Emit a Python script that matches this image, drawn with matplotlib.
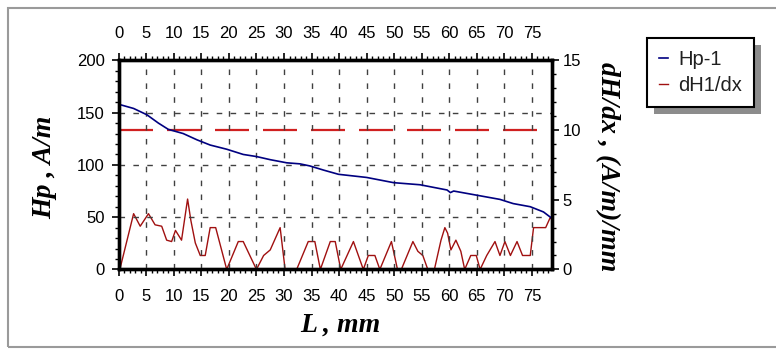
import matplotlib
matplotlib.use("Agg")
import matplotlib.pyplot as plt
from matplotlib.patches import Rectangle
from matplotlib.ticker import MultipleLocator

# field profile along the specimen
hp_x = [0, 2.7, 5.1, 7.2, 9.0, 11.7, 14.2, 16.6, 19.6, 22.6, 25.0, 27.5, 30.5,
        32.9, 34.7, 37.2, 39.9, 45.0, 49.9, 54.7, 59.6, 60.2, 60.8, 65.0, 69.2,
        71.6, 74.7, 77.1, 78.6]
hp_y = [158, 154, 148, 140, 134, 130, 124, 119, 115, 110, 108, 105, 102,
        101, 99, 95, 91, 88, 83, 81, 76, 73.5, 75, 71, 67,
        63, 60, 55, 49]

# gradient dH1/dx
dh_x = [0.2, 2.7, 3.9, 5.4, 6.6, 7.8, 8.7, 9.6, 10.3, 11.4, 12.5, 13.1, 13.9,
        14.8, 15.7, 16.6, 17.6, 19.6, 21.7, 22.6, 25.0, 26.3, 27.5, 29.3, 30.2,
        32.3, 34.4, 35.6, 36.6, 38.4, 39.3, 40.3, 42.6, 44.4, 45.3, 46.5, 47.4,
        49.5, 50.6, 51.3, 53.4, 54.3, 55.2, 56.1, 57.3, 58.5, 59.2, 59.7, 60.3,
        61.2, 62.1, 62.8, 63.9, 64.9, 65.6, 66.8, 68.3, 69.2, 70.1, 71.1, 72.3,
        73.3, 74.7, 75.3, 77.5, 78.3, 78.6]
dh_y = [0, 4, 3.1, 4, 3.2, 3.1, 2.1, 2, 2.8, 2.1, 5.05, 3.5, 1.9,
        1, 1, 3, 3, 0, 2, 2, 0, 1, 1.4, 3, 0,
        0, 2, 2, 0, 2, 2, 0, 2, 0, 1, 1, 0,
        2, 0, 0, 2, 1.3, 1, 0, 0, 2.1, 3, 2.6, 1.4,
        2.1, 1.3, 0, 1, 1, 0, 1, 2, 1, 2, 1, 2,
        1, 1, 3, 3, 3.7, 3.6]

# threshold level on the gradient axis
dh_limit = 10
limit_x = [0, 76.2]

plt.rcParams['font.family'] = ['Liberation Sans', 'DejaVu Sans']
tick_size = 12
label_font = dict(family='Liberation Serif', weight='bold', style='italic', size=20)

fig = plt.figure(figsize=(7.76, 3.49), dpi=100)
ax = fig.add_axes([0.153, 0.228, 0.558, 0.599])
ax2 = ax.twinx()

ax.set_xlim(0, 78.6)
ax.set_ylim(0, 200)
ax2.set_ylim(0, 15)

ax.grid(True, color='#404040', linestyle=(0, (4, 6)), linewidth=1.0)
ax.set_axisbelow(True)

ax2.plot(limit_x, [dh_limit, dh_limit], color='#d02020', linewidth=1.6,
         linestyle=(0, (15.3, 6.3)))
l2, = ax2.plot(dh_x, dh_y, color='#a01010', linewidth=1.0, label='dH1/dx')
l1, = ax.plot(hp_x, hp_y, color='#000080', linewidth=1.2, label='Hp-1')
ax.set_zorder(ax2.get_zorder() + 1)
ax.patch.set_visible(False)

ax.xaxis.set_major_locator(MultipleLocator(5))
ax.xaxis.set_minor_locator(MultipleLocator(1))
ax.yaxis.set_major_locator(MultipleLocator(50))
ax.yaxis.set_minor_locator(MultipleLocator(10))
ax2.yaxis.set_major_locator(MultipleLocator(5))
ax2.yaxis.set_minor_locator(MultipleLocator(1))
ax.set_xticks(range(0, 80, 5))

ax.tick_params(axis='x', which='both', top=True, labeltop=False, direction='out')
ax.tick_params(which='major', length=5, width=1.2, labelsize=tick_size, pad=5)
ax.tick_params(axis='x', which='major', pad=9)
ax.tick_params(which='minor', length=3, width=1.0)
ax2.tick_params(which='major', length=5, width=1.2, labelsize=tick_size, pad=3)
ax2.tick_params(which='minor', length=3, width=1.0)

# top row of distance labels, set further away from the frame
top = ax.secondary_xaxis('top')
top.set_xticks(range(0, 80, 5))
top.tick_params(length=0, labelsize=tick_size, pad=14)
top.spines['top'].set_visible(False)

for a in (ax, ax2):
    for s in a.spines.values():
        s.set_linewidth(2.4)

ax.set_xlabel('L , mm', fontdict=label_font)
ax.set_ylabel('Hp , A/m', fontdict=label_font)
ax2.set_ylabel('dH/dx , (A/m)/mm', fontdict=label_font, rotation=270)
ax.xaxis.set_label_coords(0.511, -0.267)
ax.yaxis.set_label_coords(-0.170, 0.49)
ax2.yaxis.set_label_coords(1.128, 0.49)
ax.xaxis.label.set_verticalalignment('center')
ax.yaxis.label.set_verticalalignment('center')
ax2.yaxis.label.set_verticalalignment('center')

leg = fig.legend(handles=[l1, l2], loc='upper left',
                 bbox_to_anchor=(0.834, 0.891), borderaxespad=0,
                 fancybox=False, framealpha=1, edgecolor='black',
                 handlelength=0.45, handletextpad=0.5, labelspacing=0.35,
                 borderpad=0.6, prop={'family': 'Liberation Sans', 'size': 14.5})
leg.get_frame().set_linewidth(1.5)
for t in leg.get_texts():
    t.set_color('#202020')

# drop shadow under the legend box
fig.canvas.draw()
bb = leg.get_window_extent().transformed(fig.transFigure.inverted())
fig.patches.append(Rectangle((bb.x0 + 7 / 776, bb.y0 - 7 / 349), bb.width, bb.height,
                             transform=fig.transFigure, facecolor='#8c8c8c',
                             edgecolor='none', zorder=-1))

# outer frame
fig.patches.append(Rectangle((8 / 776, 2 / 349), 1.2, 339 / 349,
                             transform=fig.transFigure, facecolor='none',
                             edgecolor='#9a9a9a', linewidth=1.5))

fig.savefig('out.png', dpi=100)
